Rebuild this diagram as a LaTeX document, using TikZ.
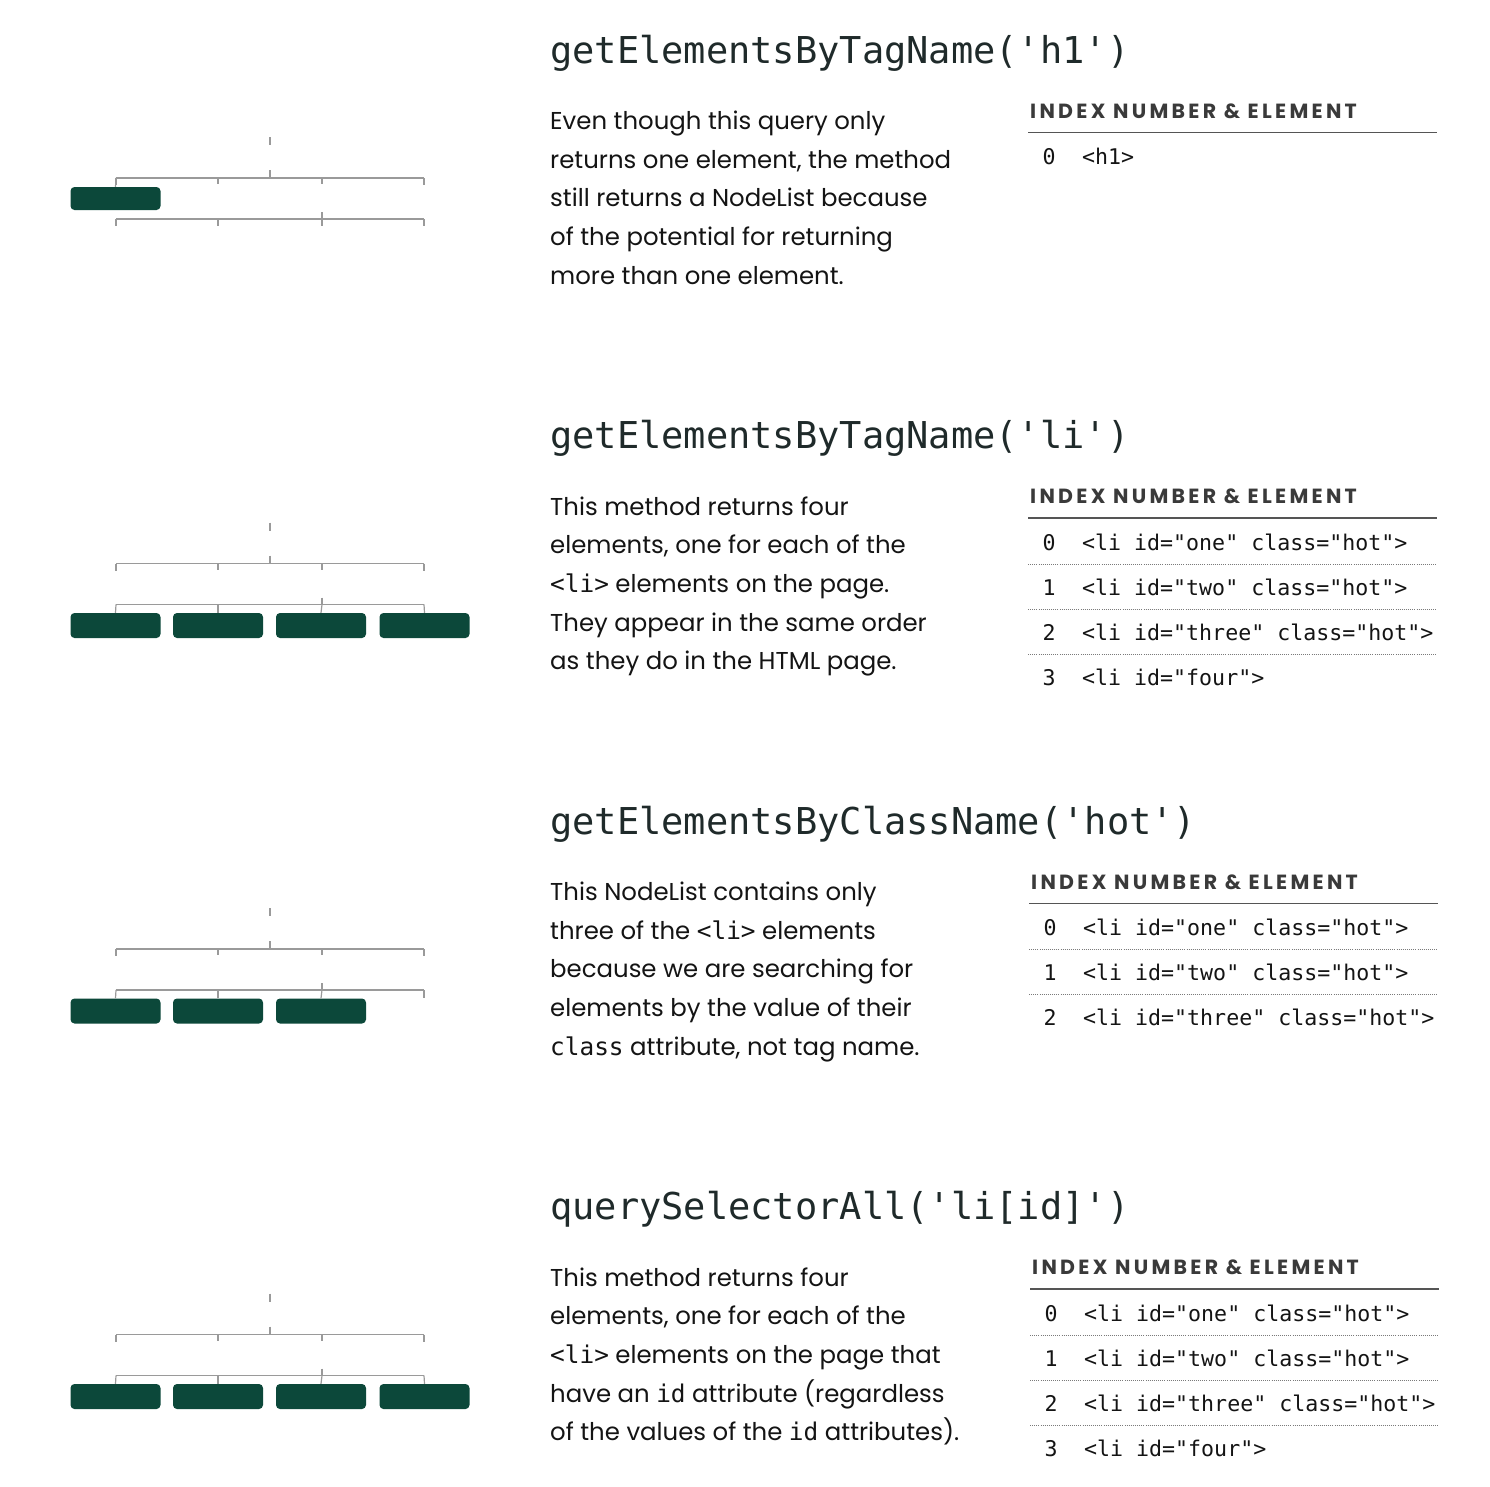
\documentclass[tikz,border=0pt]{standalone}
\usepackage{fontspec}
\setmainfont{Poppins}
\newfontfamily\mono{DejaVu Sans Mono}
\newfontfamily\hdrfont{Poppins}[LetterSpace=16]
\definecolor{boxgreen}{HTML}{0C483A}
\definecolor{treegray}{HTML}{9A9A9A}
\definecolor{rulegray}{HTML}{555555}
\definecolor{dotgray}{HTML}{7A7A7A}
\definecolor{titletext}{HTML}{1F2A2A}
\definecolor{bodytext}{HTML}{141414}
\definecolor{hdrtext}{HTML}{3A3A3A}
\newcommand\cd[1]{{\mono #1}}
\tikzset{
  bodyline/.style={anchor=base west, inner sep=0pt, font=\fontsize{24.4}{24.4}\selectfont, text=bodytext},
  ttl/.style={anchor=base west, inner sep=0pt, font=\mono\fontsize{37}{37}\selectfont, text=titletext},
  hdr/.style={anchor=base west, inner sep=0pt, font=\hdrfont\bfseries\fontsize{20.5}{20.5}\selectfont, text=hdrtext},
  rownum/.style={anchor=base, inner sep=0pt, font=\mono\fontsize{21.6}{21.6}\selectfont, text=bodytext},
  rowcode/.style={anchor=base west, inner sep=0pt, font=\mono\fontsize{21.6}{21.6}\selectfont, text=bodytext},
  elbox/.style={fill=boxgreen, rounded corners=4pt, minimum width=90pt, minimum height=25pt, inner sep=0pt},
  tline/.style={draw=treegray, line width=1.2pt},
  hrule/.style={draw=rulegray, line width=1.6pt},
  drule/.style={draw=dotgray, line width=0.9pt, dash pattern=on 0.9pt off 1.2pt},
}
% grey tree frame of one section; #1 = name prefix
\newcommand\treeframe[1]{%
  \coordinate (#1ra) at (270,137); \coordinate (#1rb) at (270,145);
  \coordinate (#1ua) at (270,170); \coordinate (#1ub) at (270,178);
  \coordinate (#1t1) at (116,178); \coordinate (#1t2) at (218,178);
  \coordinate (#1t3) at (322,178); \coordinate (#1t4) at (424,178);
  \coordinate (#1l1) at (116,219); \coordinate (#1l2) at (218,219);
  \coordinate (#1l3) at (322,219); \coordinate (#1l4) at (424,219);
  \coordinate (#1la) at (322,212);
  \draw[tline] (#1ra) -- (#1rb);
  \draw[tline] (#1ua) -- (#1ub);
  \draw[tline] (#1t1) -- (#1t4);
  \draw[tline] (#1t1) -- ++(0,7);
  \draw[tline] (#1t2) -- ++(0,6);
  \draw[tline] (#1t3) -- ++(0,6);
  \draw[tline] (#1t4) -- ++(0,7);
  \draw[tline] (#1l1) -- (#1l4);
  \draw[tline] (#1la) -- (#1l3);
}
% table header and rule; #1 prefix
\newcommand\tablehead[1]{%
  \node[hdr] (#1hdr) at (1030,118) {INDEX NUMBER \& ELEMENT};
  \coordinate (#1ha) at (1028,132.5); \coordinate (#1hb) at (1437,132.5);
  \draw[hrule] (#1ha) -- (#1hb);
}
\begin{document}
\begin{tikzpicture}[x=1pt,y=-1pt]
\useasboundingbox (0,0) rectangle (1490,1486);
\fill[white] (0,0) rectangle (1490,1486);

% ---------------- Section 1
\begin{scope}
  \treeframe{s1}
  \node[elbox, minimum height=23pt] (s1b1) at (115.5,198.5) {};
  \draw[tline] (s1b1.north) -- (s1t1);
  \foreach \k in {1,2,3,4} \draw[tline] (s1l\k) -- ++(0,7);
  \node[ttl] (s1title) at (550,63) {getElementsByTagName('h1')};
  \foreach \t [count=\i from 0] in {{Even though this query only},{returns one element, the method},{still returns a NodeList because},{of the potential for returning},{more than one element.}}
    \node[bodyline] (s1txt\i) at (550,{129.5+38.7*\i}) {\t};
  \tablehead{s1}
  \node[rownum] (s1n0) at (1049,164.5) {0};
  \node[rowcode] (s1c0) at (1082,164.5) {<h1>};
\end{scope}

% ---------------- Section 2
\begin{scope}[shift={(0,385.5)}]
  \treeframe{s2}
  \foreach \x [count=\k] in {115.5,218,321,424.5} {
    \node[elbox] (s2b\k) at (\x,240) {};
    \draw[tline] (s2b\k.north) -- (s2l\k);
  }
  \node[ttl] (s2title) at (550,63) {getElementsByTagName('li')};
  \foreach \t [count=\i from 0] in {{This method returns four},{elements, one for each of the},{\cd{<li>} elements on the page.},{They appear in the same order},{as they do in the HTML page.}}
    \node[bodyline] (s2txt\i) at (550,{129.5+38.7*\i}) {\t};
  \tablehead{s2}
  \foreach \c [count=\i from 0] in {{<li id="one" class="hot">},{<li id="two" class="hot">},{<li id="three" class="hot">},{<li id="four">}} {
    \node[rownum] (s2n\i) at (1049,{164.5+45*\i}) {\i};
    \node[rowcode] (s2c\i) at (1082,{164.5+45*\i}) {\c};
  }
  \foreach \k in {0,1,2} \draw[drule] (1028,{178.5+45*\k}) -- (1437,{178.5+45*\k});
\end{scope}

% ---------------- Section 3
\begin{scope}[shift={(0,771)}]
  \treeframe{s3}
  \foreach \x [count=\k] in {115.5,218,321} {
    \node[elbox] (s3b\k) at (\x,240) {};
    \draw[tline] (s3b\k.north) -- (s3l\k);
  }
  \draw[tline] (s3l4) -- ++(0,8);
  \node[ttl] (s3title) at (550,63) {getElementsByClassName('hot')};
  \foreach \t [count=\i from 0] in {{This NodeList contains only},{three of the \cd{<li>} elements},{because we are searching for},{elements by the value of their},{\cd{class} attribute, not tag name.}}
    \node[bodyline] (s3txt\i) at (550,{129.5+38.7*\i}) {\t};
  \begin{scope}[shift={(1,0)}]
  \tablehead{s3}
  \foreach \c [count=\i from 0] in {{<li id="one" class="hot">},{<li id="two" class="hot">},{<li id="three" class="hot">}} {
    \node[rownum] (s3n\i) at (1049,{164.5+45*\i}) {\i};
    \node[rowcode] (s3c\i) at (1082,{164.5+45*\i}) {\c};
  }
  \foreach \k in {0,1} \draw[drule] (1028,{178.5+45*\k}) -- (1437,{178.5+45*\k});
  \end{scope}
\end{scope}

% ---------------- Section 4
\begin{scope}[shift={(0,1156.5)}]
  \treeframe{s4}
  \foreach \x [count=\k] in {115.5,218,321,424.5} {
    \node[elbox] (s4b\k) at (\x,240) {};
    \draw[tline] (s4b\k.north) -- (s4l\k);
  }
  \node[ttl] (s4title) at (550,63) {querySelectorAll('li[id]')};
  \foreach \t [count=\i from 0] in {{This method returns four},{elements, one for each of the},{\cd{<li>} elements on the page that},{have an \cd{id} attribute (regardless},{of the values of the \cd{id} attributes).}}
    \node[bodyline] (s4txt\i) at (550,{129.5+38.7*\i}) {\t};
  \begin{scope}[shift={(2,0)}]
  \tablehead{s4}
  \foreach \c [count=\i from 0] in {{<li id="one" class="hot">},{<li id="two" class="hot">},{<li id="three" class="hot">},{<li id="four">}} {
    \node[rownum] (s4n\i) at (1049,{164.5+45*\i}) {\i};
    \node[rowcode] (s4c\i) at (1082,{164.5+45*\i}) {\c};
  }
  \foreach \k in {0,1,2} \draw[drule] (1028,{178.5+45*\k}) -- (1437,{178.5+45*\k});
  \end{scope}
\end{scope}
\end{tikzpicture}
\end{document}
